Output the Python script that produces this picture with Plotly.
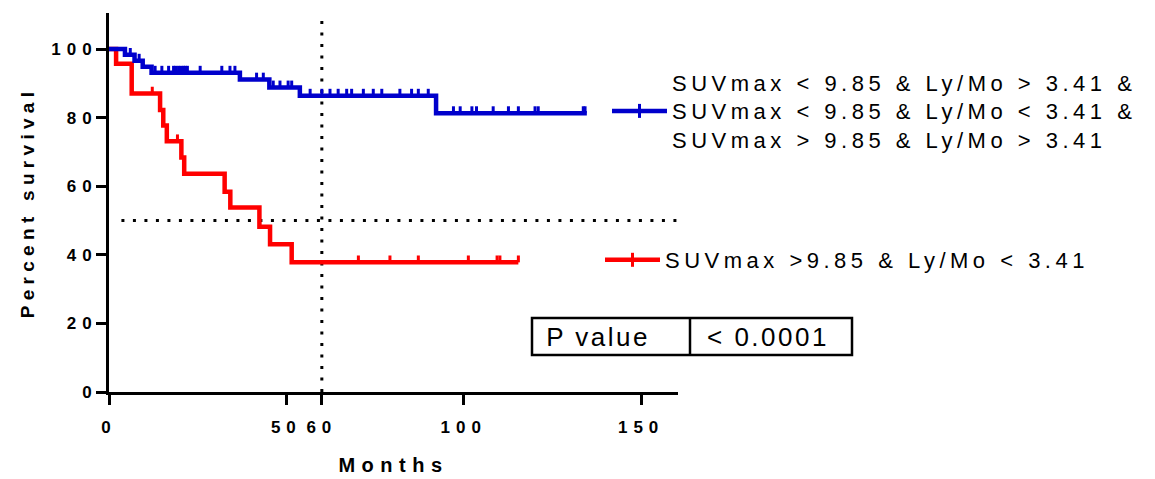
import json
import numpy as np
import plotly.graph_objects as go

# ---------------- data ----------------
blue_name = "SUVmax < 9.85 & Ly/Mo > 3.41 &<br>SUVmax < 9.85 & Ly/Mo < 3.41 &<br>SUVmax > 9.85 & Ly/Mo > 3.41"
blue_time = [0, 4.5, 7.2, 9.5, 12.0, 36.9, 45.2, 53.8, 92.2, 134.7]
blue_surv = [100, 98.3, 96.6, 94.8, 93.1, 91.1, 88.8, 86.4, 81.3, 81.3]
blue_censor = [6.0, 8.5, 13.0, 14.9, 16.8, 18.2, 18.8, 19.6, 20.3, 21.0, 21.5, 22.1, 25.7,
               31.8, 34.1, 35.5, 41.6, 43.5, 46.3, 48.2, 50.5, 51.5, 56.7, 60.0, 62.3,
               64.6, 67.0, 68.4, 71.7, 74.5, 76.9, 82.0, 85.3, 87.2, 90.0, 97.1, 99.0,
               102.3, 103.6, 108.3, 112.6, 115.4, 120.1, 121.0, 133.7, 134.2]

red_name = "SUVmax >9.85 & Ly/Mo < 3.41"
red_time = [0, 2.0, 6.4, 14.4, 15.3, 16.3, 20.4, 21.2, 32.6, 34.2, 42.4, 45.4, 51.5, 115.4]
red_surv = [100, 95.7, 87.0, 82.2, 77.7, 73.1, 68.4, 63.6, 58.4, 53.8, 48.2, 43.1, 37.8, 37.8]
red_censor = [12.2, 19.3, 70.3, 79.2, 87.2, 101.3, 109.4, 110.2, 115.4]

x_ticks = [0, 50, 60, 100, 150]
y_ticks = [0, 20, 40, 60, 80, 100]
median_level = 50
landmark_month = 60
p_label = "P value"
p_text = "< 0.0001"

# ---------------- styling ----------------
BLUE = "#0000CC"
RED = "#FF0000"
FONT = "Liberation Sans"
W, H = 1155, 479
ML, MR, MT, MB = 109, 477, 13, 87
X_RANGE = [0, 160.4]
Y_RANGE = [0, 110.5]
TICK_H = 2.0  # censor tick height (percent units)


def px_x(p):
    return (p - ML) / (W - ML - MR)


def px_y(p):
    return (H - MB - p) / (H - MT - MB)


def surv_at(times, survs, t):
    i = int(np.searchsorted(times, t, side="right")) - 1
    return survs[max(i, 0)]


def censor_segments(times, survs, cens):
    xs, ys = [], []
    for t in cens:
        s = surv_at(times, survs, t)
        xs += [t, t, None]
        ys += [s, s + TICK_H, None]
    return xs, ys


fig = go.Figure()

for name, times, survs, cens, col, leg in [
    (red_name, red_time, red_surv, red_censor, RED, "legend2"),
    (blue_name, blue_time, blue_surv, blue_censor, BLUE, "legend"),
]:
    fig.add_trace(go.Scatter(x=times, y=survs, mode="lines",
                             line=dict(shape="hv", color=col, width=4.5),
                             showlegend=False, hoverinfo="skip"))
    cx, cy = censor_segments(times, survs, cens)
    fig.add_trace(go.Scatter(x=cx, y=cy, mode="lines",
                             line=dict(color=col, width=3),
                             showlegend=False, hoverinfo="skip"))
    fig.add_trace(go.Scatter(x=[None], y=[None], mode="lines+markers", name=name,
                             line=dict(color=col, width=4.5),
                             marker=dict(symbol="line-ns", size=10,
                                         line=dict(color=col, width=3)),
                             legend=leg))

dot = dict(color="black", width=3, dash="3px,8.5px")
fig.add_shape(type="line", xref="x", yref="y", x0=landmark_month, x1=landmark_month,
              y0=0, y1=Y_RANGE[1], line=dot, layer="below")
fig.add_shape(type="line", xref="x", yref="y", x0=3.5, x1=X_RANGE[1],
              y0=median_level, y1=median_level, line=dot, layer="below")

# P value table
bx0, bx1, bdiv = px_x(532), px_x(852), px_x(690)
by0, by1 = px_y(355), px_y(318)
fig.add_shape(type="rect", xref="paper", yref="paper", x0=bx0, x1=bx1, y0=by0, y1=by1,
              line=dict(color="black", width=2.5))
fig.add_shape(type="line", xref="paper", yref="paper", x0=bdiv, x1=bdiv, y0=by0, y1=by1,
              line=dict(color="black", width=2.5))
fig.add_annotation(xref="paper", yref="paper", x=px_x(598), y=(by0 + by1) / 2,
                   text=p_label, showarrow=False, xanchor="center", yanchor="middle",
                   font=dict(family=FONT, size=26, color="black"))
fig.add_annotation(xref="paper", yref="paper", x=px_x(768), y=(by0 + by1) / 2,
                   text=p_text, showarrow=False, xanchor="center", yanchor="middle",
                   font=dict(family=FONT, size=26, color="black"))

axis_common = dict(showline=True, linewidth=3, linecolor="black", mirror=False,
                   ticks="outside", ticklen=10, tickwidth=3, tickcolor="black",
                   showgrid=False, zeroline=False, automargin=False,
                   tickfont=dict(family=FONT, size=17, color="black", weight="bold"))

fig.update_layout(
    width=W, height=H,
    margin=dict(l=ML, r=MR, t=MT, b=MB, pad=0, autoexpand=False),
    paper_bgcolor="white", plot_bgcolor="white",
    xaxis=dict(range=X_RANGE, tickmode="array", tickvals=x_ticks,
               ticklabelstandoff=8,
               title=dict(text="Months", standoff=22,
                          font=dict(family=FONT, size=20, color="black", weight="bold")),
               **axis_common),
    yaxis=dict(range=Y_RANGE, tickmode="array", tickvals=y_ticks,
               ticklabelstandoff=-5,
               title=dict(text="Percent survival", standoff=30,
                          font=dict(family=FONT, size=19, color="black", weight="bold")),
               **axis_common),
    legend=dict(x=px_x(607), y=px_y(111), xanchor="left", yanchor="middle",
                bgcolor="rgba(0,0,0,0)", borderwidth=0, valign="middle", itemwidth=55,
                font=dict(family=FONT, size=22, color="black")),
    legend2=dict(x=px_x(600), y=px_y(260), xanchor="left", yanchor="middle",
                 bgcolor="rgba(0,0,0,0)", borderwidth=0, itemwidth=55,
                 font=dict(family=FONT, size=22, color="black")),
    showlegend=True,
)

css = ("body{margin:0}"
       ".infolayer .scrollbox{clip-path:none !important}"
       ".legendtext,.infolayer [class^='legend'] text{letter-spacing:4.5px}"
       ".xtick text,.ytick text{letter-spacing:6px}"
       ".xtitle{letter-spacing:6.5px}"
       ".ytitle{letter-spacing:5.3px}"
       ".annotation-text{letter-spacing:2.5px}")
post = ("var s=document.createElement('style');s.textContent=" + json.dumps(css) +
        ";document.head.appendChild(s);")

fig.write_html("out.html", post_script=post, config={"displayModeBar": False})
